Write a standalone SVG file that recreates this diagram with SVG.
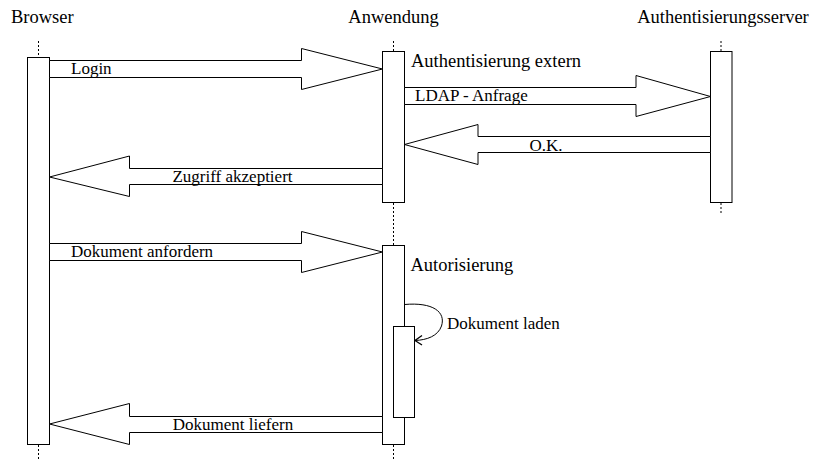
<svg xmlns="http://www.w3.org/2000/svg" width="813" height="461" viewBox="0 0 813 461">
<style>
.hdr{font-family:"Liberation Serif","Times New Roman",serif;font-size:18.5px;fill:#000}
.lbl{font-family:"Liberation Serif","Times New Roman",serif;font-size:17px;fill:#000}
.life{stroke:#000;stroke-width:1;stroke-dasharray:2 2;fill:none}
.box{fill:#fff;stroke:#000;stroke-width:1}
.arr{fill:#fff;stroke:#000;stroke-width:1;stroke-linejoin:miter}
</style>
<rect width="813" height="461" fill="#fff"/>
<g id="browser">
<text class="hdr" x="11" y="22.5">Browser</text>
<line class="life" x1="38.5" y1="41" x2="38.5" y2="57"/>
<line class="life" x1="38.5" y1="445" x2="38.5" y2="461"/>
<rect class="box" x="27.5" y="57.5" width="22" height="387"/>
</g>
<g id="anwendung">
<text class="hdr" x="393.5" y="22.5" text-anchor="middle">Anwendung</text>
<line class="life" x1="393.5" y1="41" x2="393.5" y2="51"/>
<line class="life" x1="393.5" y1="203" x2="393.5" y2="245"/>
<line class="life" x1="393.5" y1="445" x2="393.5" y2="461"/>
<rect class="box" x="382.5" y="51.5" width="22" height="151"/>
<text class="hdr" x="411" y="66.5">Authentisierung extern</text>
<rect class="box" x="382.5" y="245.5" width="22" height="199"/>
<text class="hdr" x="410.5" y="271">Autorisierung</text>
<rect class="box" x="393.5" y="326.5" width="21" height="91"/>
<text class="lbl" x="447" y="329">Dokument laden</text>
</g>
<g id="authentisierungsserver">
<text class="hdr" x="723" y="22.5" text-anchor="middle">Authentisierungsserver</text>
<line class="life" x1="721" y1="41" x2="721" y2="51"/>
<line class="life" x1="721" y1="203" x2="721" y2="215"/>
<rect class="box" x="710.5" y="51.5" width="21.5" height="151"/>
</g>
<g id="connectors">
<polygon class="arr" points="49.5,60.5 301.5,60.5 301.5,48.5 382.5,69 301.5,89.5 301.5,77.5 49.5,77.5"/>
<text class="lbl" x="71" y="74">Login</text>
<polygon class="arr" points="404.5,87.5 636,87.5 636,75.5 710.5,96.5 636,116.5 636,104.5 404.5,104.5"/>
<text class="lbl" x="415" y="100.5">LDAP - Anfrage</text>
<polygon class="arr" points="710.5,136.5 478,136.5 478,124.5 404.5,144.5 478,164.5 478,152.5 710.5,152.5"/>
<text class="lbl" x="546" y="150.5" text-anchor="middle">O.K.</text>
<polygon class="arr" points="382.5,168.5 129.5,168.5 129.5,156 49.5,177 129.5,196.5 129.5,184.5 382.5,184.5"/>
<text class="lbl" x="232.5" y="182" text-anchor="middle">Zugriff akzeptiert</text>
<polygon class="arr" points="49.5,243.5 301.5,243.5 301.5,231.5 382.5,252 301.5,272.5 301.5,260.5 49.5,260.5"/>
<text class="lbl" x="71" y="256.5">Dokument anfordern</text>
<path d="M404.5,304.5 C433,302 446,312 441.5,326 C438,336 427,340 415,340.5" fill="none" stroke="#000" stroke-width="1"/>
<path d="M422,335.5 L415,340.5 L422,345" fill="none" stroke="#000" stroke-width="1.3"/>
<polygon class="arr" points="382.5,416.5 129.5,416.5 129.5,403.5 49.5,424 129.5,444.5 129.5,432.5 382.5,432.5"/>
<text class="lbl" x="233" y="430" text-anchor="middle">Dokument liefern</text>
</g>
</svg>
